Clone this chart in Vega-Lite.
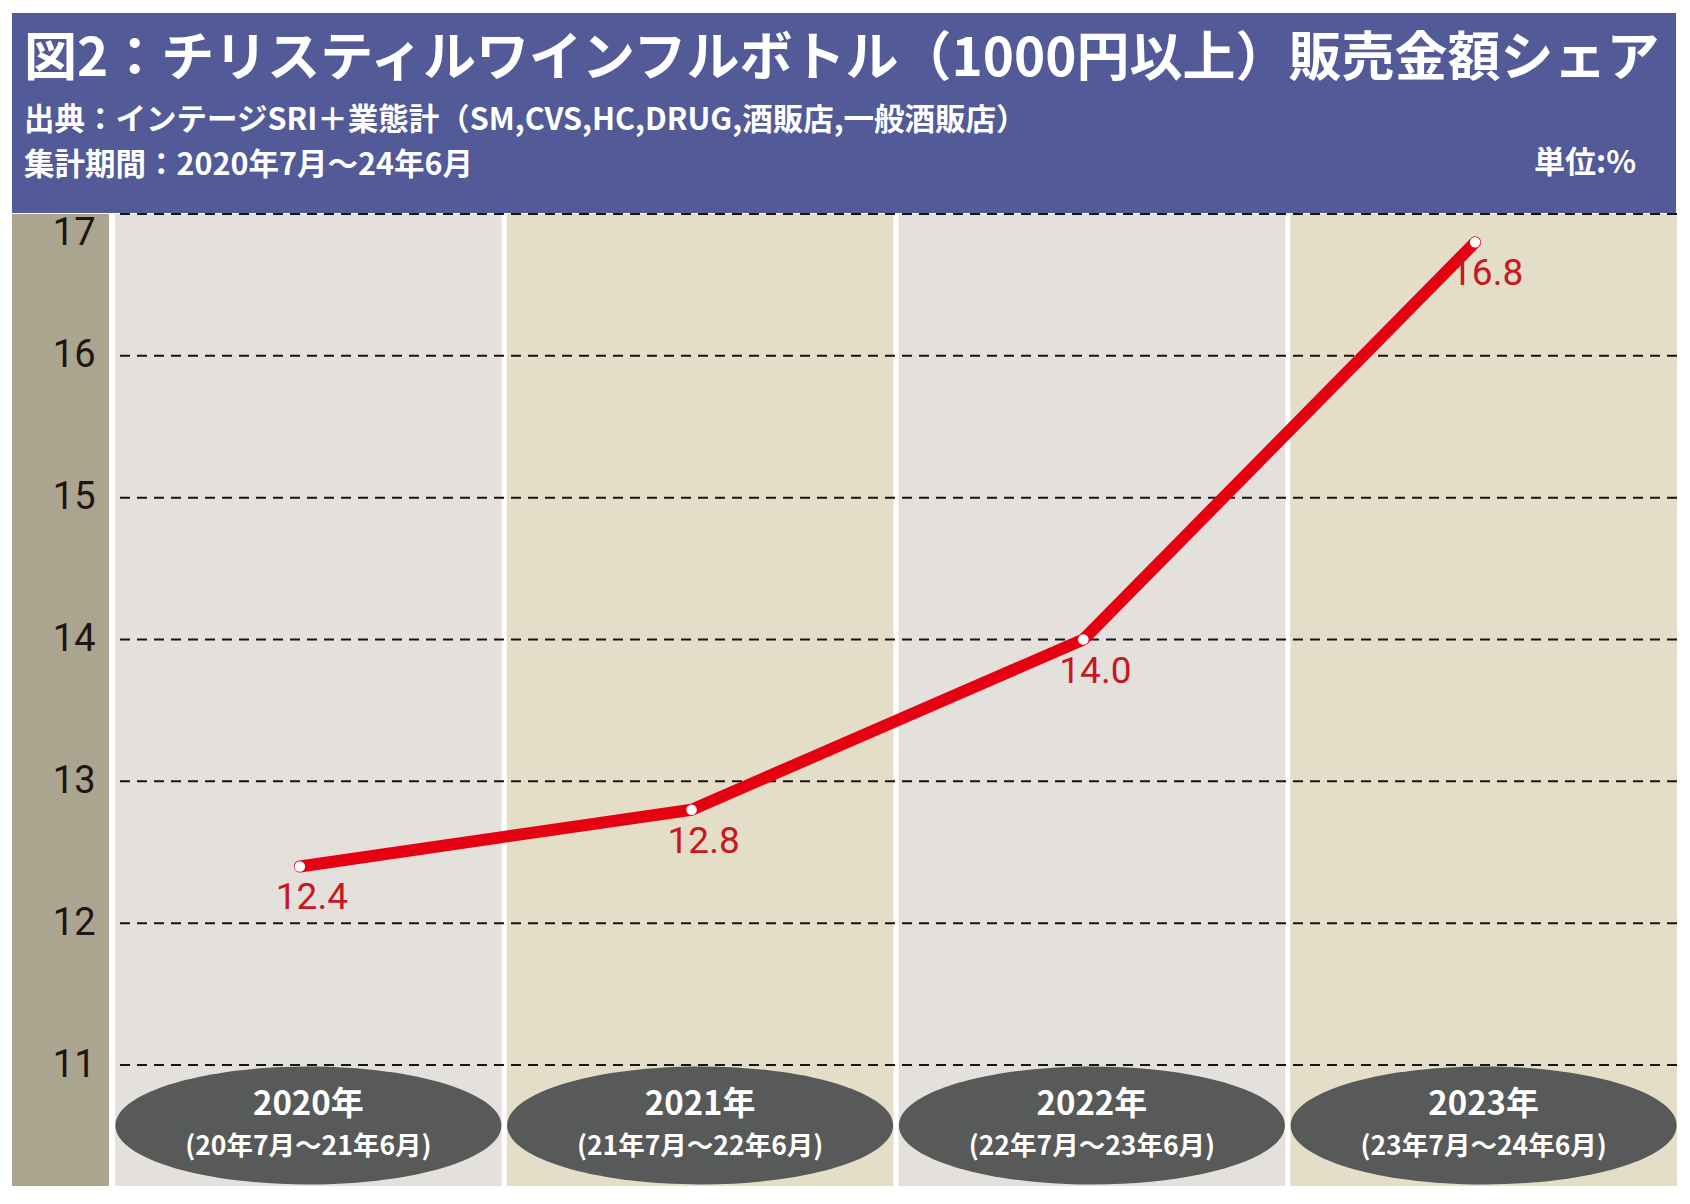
{
  "$schema": "https://vega.github.io/schema/vega-lite/v6.json",
  "background": "white",
  "padding": {"left": 12, "top": 13, "right": 14, "bottom": 19},
  "spacing": 0,
  "config": {"view": {"stroke": null}},
  "datasets": {
    "share": [
      {"year": "2020年", "period": "(20年7月～21年6月)", "share": 12.4},
      {"year": "2021年", "period": "(21年7月～22年6月)", "share": 12.8},
      {"year": "2022年", "period": "(22年7月～23年6月)", "share": 14.0},
      {"year": "2023年", "period": "(23年7月～24年6月)", "share": 16.8}
    ],
    "ticks": [{"v": 11}, {"v": 12}, {"v": 13}, {"v": 14}, {"v": 15}, {"v": 16}, {"v": 17}]
  },
  "vconcat": [
    {
      "width": 1664,
      "height": 200,
      "view": {"fill": "#525A97", "stroke": null},
      "title": {
        "text": "図2：チリスティルワインフルボトル（1000円以上）販売金額シェア",
        "subtitle": ["出典：インテージSRI＋業態計（SM,CVS,HC,DRUG,酒販店,一般酒販店）", "集計期間：2020年7月～24年6月"],
        "anchor": "start",
        "frame": "group",
        "orient": "top",
        "offset": -168,
        "dx": 12,
        "font": "Noto Sans CJK JP, sans-serif",
        "fontSize": 53,
        "fontWeight": "bold",
        "color": "white",
        "subtitleFont": "Noto Sans CJK JP, sans-serif",
        "subtitleFontSize": 30.5,
        "subtitleFontWeight": "bold",
        "subtitleColor": "white",
        "subtitlePadding": 19,
        "subtitleLineHeight": 44.5
      },
      "data": {"values": [{"unit": "単位:%"}]},
      "mark": {
        "type": "text",
        "x": "width",
        "y": "height",
        "align": "right",
        "baseline": "middle",
        "dx": -40,
        "dy": -49,
        "font": "Noto Sans CJK JP, sans-serif",
        "fontSize": 31,
        "fontWeight": "bold",
        "color": "white"
      },
      "encoding": {"text": {"field": "unit"}}
    },
    {
      "spacing": 5,
      "hconcat": [
        {
          "width": 97,
          "height": 972,
          "view": {"fill": "#ABA48F", "stroke": null},
          "data": {"name": "ticks"},
          "mark": {"type": "tick", "opacity": 0},
          "encoding": {
            "y": {
              "field": "v",
              "type": "quantitative",
              "scale": {"domain": [10.147, 17], "nice": false, "zero": false},
              "axis": {
                "values": [11, 12, 13, 14, 15, 16, 17],
                "domain": false,
                "ticks": false,
                "tickSize": 0,
                "grid": false,
                "labelPadding": -83,
                "labelFlush": true,
                "labelAlign": "right",
                "labelFont": "Roboto, sans-serif",
                "labelFontSize": 38,
                "labelColor": "#1E1612",
                "title": null
              }
            }
          }
        },
        {
          "width": 1562,
          "height": 972,
          "layer": [
            {
              "data": {"name": "share"},
              "mark": {"type": "bar"},
              "encoding": {
                "x": {"field": "year", "type": "nominal", "scale": {"type": "band", "paddingInner": 0.0128, "paddingOuter": 0}, "axis": null},
                "color": {"field": "year", "type": "nominal", "scale": {"range": ["#E4E1DD", "#E4DDC8", "#E4E1DD", "#E4DDC8"]}, "legend": null}
              }
            },
            {
              "data": {"name": "ticks"},
              "mark": {"type": "rule", "strokeDash": [10, 7], "stroke": "#151515", "strokeWidth": 2},
              "encoding": {
                "y": {"field": "v", "type": "quantitative", "scale": {"domain": [10.147, 17], "nice": false, "zero": false}, "axis": null}
              }
            },
            {
              "data": {"name": "share"},
              "mark": {
                "type": "point",
                "shape": "M -1 0 C -1 -0.1688 -0.5523 -0.3057 0 -0.3057 C 0.5523 -0.3057 1 -0.1688 1 0 C 1 0.1688 0.5523 0.3057 0 0.3057 C -0.5523 0.3057 -1 0.1688 -1 0 Z",
                "size": 148996,
                "filled": true,
                "fill": "#575A58",
                "strokeWidth": 0,
                "opacity": 1
              },
              "encoding": {
                "x": {"field": "year", "type": "nominal"},
                "y": {"datum": 10.574, "type": "quantitative"}
              }
            },
            {
              "data": {"name": "share"},
              "mark": {"type": "text", "align": "center", "baseline": "middle", "font": "Noto Sans CJK JP, sans-serif", "fontSize": 33, "fontWeight": "bold", "color": "white"},
              "encoding": {
                "x": {"field": "year", "type": "nominal"},
                "y": {"datum": 10.72, "type": "quantitative"},
                "text": {"field": "year"}
              }
            },
            {
              "data": {"name": "share"},
              "mark": {"type": "text", "align": "center", "baseline": "middle", "font": "Noto Sans CJK JP, sans-serif", "fontSize": 26.5, "fontWeight": "bold", "color": "white"},
              "encoding": {
                "x": {"field": "year", "type": "nominal"},
                "y": {"datum": 10.425, "type": "quantitative"},
                "text": {"field": "period"}
              }
            },
            {
              "data": {"name": "share"},
              "mark": {"type": "line", "color": "#E50012", "strokeWidth": 12, "strokeCap": "round", "strokeJoin": "round"},
              "encoding": {
                "x": {"field": "year", "type": "nominal", "bandPosition": 0.478},
                "y": {"field": "share", "type": "quantitative"}
              }
            },
            {
              "data": {"name": "share"},
              "mark": {"type": "point", "filled": true, "fill": "white", "size": 110, "opacity": 1, "strokeWidth": 0},
              "encoding": {
                "x": {"field": "year", "type": "nominal", "bandPosition": 0.478},
                "y": {"field": "share", "type": "quantitative"}
              }
            },
            {
              "data": {"name": "share"},
              "mark": {"type": "text", "align": "center", "baseline": "middle", "dx": 12, "dy": 32, "font": "Roboto, sans-serif", "fontSize": 37, "color": "#C8171E"},
              "encoding": {
                "x": {"field": "year", "type": "nominal", "bandPosition": 0.478},
                "y": {"field": "share", "type": "quantitative"},
                "text": {"field": "share", "type": "quantitative", "format": ".1f"}
              }
            }
          ]
        }
      ]
    }
  ]
}
